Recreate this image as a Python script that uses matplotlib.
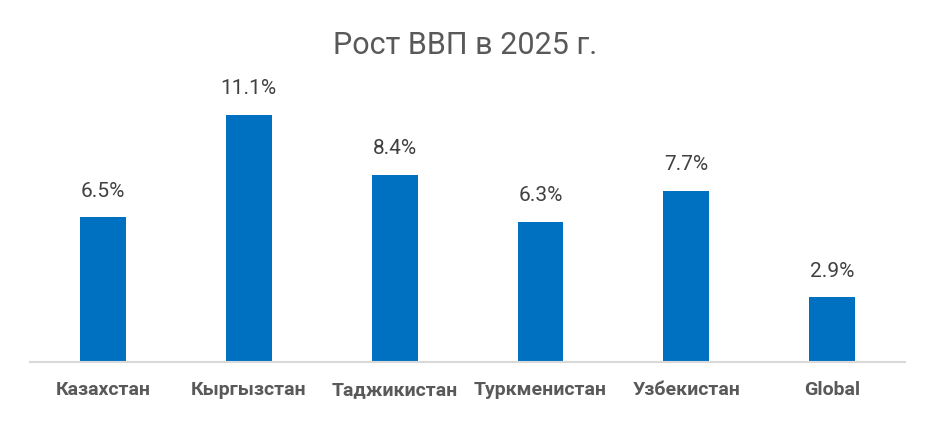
import numpy as np
import matplotlib
matplotlib.use('Agg')
import matplotlib.pyplot as plt

countries = ['Казахстан', 'Кыргызстан', 'Таджикистан', 'Туркменистан', 'Узбекистан', 'Global']
growth = [6.5, 11.1, 8.4, 6.3, 7.7, 2.9]
labels = ['6.5%', '11.1%', '8.4%', '6.3%', '7.7%', '2.9%']

plt.rcParams['font.family'] = ['Roboto', 'DejaVu Sans']

fig = plt.figure(figsize=(9.3, 4.24), dpi=100)
ax = fig.add_axes([0.0323, 0.1462, 0.9409, 0.630])

x = np.arange(len(countries))
bars = ax.bar(x, growth, width=0.315, color='#0070C0', zorder=2)

for xi, v, lab in zip(x, growth, labels):
    ax.annotate(lab, (xi, v), xytext=(0, 12), textcoords='offset points',
                ha='center', va='bottom', fontsize=15, color='#404040')

ax.set_xlim(-0.5, len(countries) - 0.5)
ax.set_ylim(0, 12)
ax.set_xticks(x)
ax.set_xticklabels(countries, fontsize=14, fontweight='bold', color='#595959')
ax.tick_params(axis='x', length=0, pad=14)
ax.set_yticks([])
for s in ['top', 'right', 'left']:
    ax.spines[s].set_visible(False)
ax.spines['bottom'].set_color('#D9D9D9')
ax.spines['bottom'].set_linewidth(1.5)

fig.text(0.5, 1 - 45 / 424, 'Рост ВВП в 2025 г.', ha='center', va='center',
         fontsize=22, color='#595959')

fig.savefig('out.png', dpi=100)
